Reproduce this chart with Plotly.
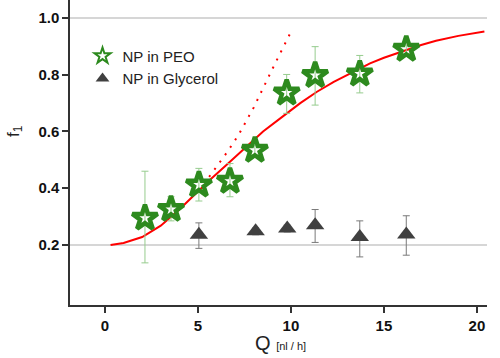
import numpy as np
import plotly.graph_objects as go

# ---- data ----
peo_q = [2.15, 3.55, 5.05, 6.72, 8.06, 9.77, 11.3, 13.7, 16.2]
peo_f = [0.295, 0.326, 0.412, 0.425, 0.534, 0.736, 0.798, 0.803, 0.890]
peo_hi = [0.460, 0.370, 0.470, 0.487, 0.550, 0.801, 0.899, 0.868, 0.905]
peo_lo = [0.137, 0.285, 0.355, 0.370, 0.518, 0.664, 0.693, 0.736, 0.875]

gly_q = [5.05, 8.1, 9.8, 11.3, 13.7, 16.2]
gly_f = [0.236, 0.248, 0.258, 0.270, 0.228, 0.237]
gly_hi = [0.278, 0.260, 0.270, 0.325, 0.285, 0.303]
gly_lo = [0.188, 0.236, 0.246, 0.209, 0.158, 0.164]

fit_q = [0.3, 1.0, 2.0, 3.0, 4.0, 5.0, 5.65, 6.5, 7.0, 7.8, 8.5, 9.6, 10.5,
         11.4, 12.3, 13.2, 14.25, 15.0, 16.0, 17.0, 17.8, 19.0, 20.4]
fit_f = [0.200, 0.207, 0.228, 0.268, 0.325, 0.390, 0.430, 0.480, 0.510, 0.560,
         0.600, 0.655, 0.700, 0.740, 0.775, 0.805, 0.840, 0.860, 0.883, 0.905,
         0.920, 0.937, 0.952]

init_q = [5.6, 6.6, 7.2, 8.0, 9.0, 10.05]
init_f = [0.44, 0.53, 0.59, 0.685, 0.82, 0.958]

ref_levels = [0.2, 1.0]

x_ticks = [0, 5, 10, 15, 20]
y_ticks = [0.2, 0.4, 0.6, 0.8, 1.0]
y_tick_text = ["0.2", "0.4", "0.6", "0.8", "1.0"]

# ---- figure ----
fig = go.Figure()

fig.add_trace(go.Scatter(
    x=fit_q, y=fit_f, mode="lines", showlegend=False,
    line=dict(color="#ff0000", width=2), hoverinfo="skip"))

fig.add_trace(go.Scatter(
    x=init_q, y=init_f, mode="lines", showlegend=False,
    line=dict(color="#ff0000", width=2, dash="2px,7px"), hoverinfo="skip"))

fig.add_trace(go.Scatter(
    x=peo_q, y=peo_f, mode="markers", name="NP in PEO",
    marker=dict(symbol="star-open", size=19, color="#2d8a1e",
                line=dict(width=4.5, color="#2d8a1e")),
    error_y=dict(type="data", symmetric=False,
                 array=list(np.array(peo_hi) - np.array(peo_f)),
                 arrayminus=list(np.array(peo_f) - np.array(peo_lo)),
                 color="#96cc8e", thickness=1, width=3.5)))

fig.add_trace(go.Scatter(
    x=gly_q, y=gly_f, mode="markers", name="NP in Glycerol",
    marker=dict(symbol="triangle-up", size=16, color="#404040"),
    error_y=dict(type="data", symmetric=False,
                 array=list(np.array(gly_hi) - np.array(gly_f)),
                 arrayminus=list(np.array(gly_f) - np.array(gly_lo)),
                 color="#7a7a7a", thickness=1, width=3.5)))

shapes = [dict(type="line", xref="paper", yref="y", x0=0, x1=1, y0=v, y1=v,
               line=dict(color="#c8c8c8", width=1.5), layer="below")
          for v in ref_levels]

tick_font = dict(size=15, family="Liberation Sans, Arial", color="#111",
                 weight="bold")

fig.update_layout(
    width=500, height=358,
    margin=dict(l=70, r=13, t=0, b=53),
    paper_bgcolor="white", plot_bgcolor="white",
    font=dict(family="Liberation Sans, Arial", color="#1a1a1a"),
    shapes=shapes,
    showlegend=True,
    legend=dict(x=0.03, y=0.87, xanchor="left", yanchor="top",
                bgcolor="rgba(0,0,0,0)", font=dict(size=15, color="#222"),
                itemsizing="constant", tracegroupgap=0),
    xaxis=dict(range=[-1.88, 20.54], tickvals=x_ticks, showgrid=False,
               zeroline=False, showline=True, linecolor="#333", linewidth=1.5,
               ticks="outside", ticklen=6, tickwidth=1.5, tickcolor="#333",
               tickfont=tick_font),
    yaxis=dict(range=[-0.0115, 1.0634], tickvals=y_ticks, ticktext=y_tick_text,
               showgrid=False, zeroline=False, showline=True, linecolor="#333",
               linewidth=1.5, ticks="outside", ticklen=6, tickwidth=1.5,
               tickcolor="#333", tickfont=tick_font),
    annotations=[
        dict(text="f<sub>1</sub>", xref="paper", yref="paper",
             x=-0.132, y=0.57, xanchor="center", yanchor="middle",
             showarrow=False, textangle=-90,
             font=dict(size=17, color="#222")),
        dict(text="Q <span style='font-size:11px'>[nl / h]</span>",
             xref="paper", yref="paper", x=0.505, y=-0.125, xanchor="center",
             yanchor="middle", showarrow=False,
             font=dict(size=20, color="#222")),
    ],
)

fig.write_html("out.html", config={"displayModeBar": False},
               post_script="document.body.style.margin='0';")
